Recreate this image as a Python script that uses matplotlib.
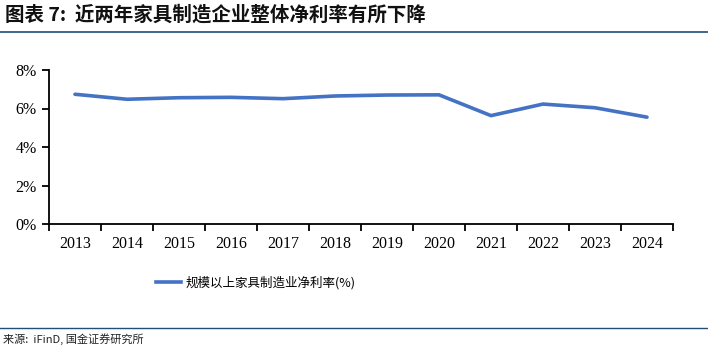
import matplotlib
matplotlib.use("Agg")
import matplotlib.pyplot as plt
from matplotlib.lines import Line2D
from matplotlib.ticker import FuncFormatter, FixedLocator

years = ["2013", "2014", "2015", "2016", "2017", "2018", "2019", "2020", "2021", "2022", "2023", "2024"]
net_margin = [6.74, 6.48, 6.56, 6.58, 6.51, 6.65, 6.70, 6.71, 5.63, 6.23, 6.04, 5.55]
series_name = "规模以上家具制造业净利率(%)"
title = "图表 7:  近两年家具制造企业整体净利率有所下降"
source = "来源:  iFinD, 国金证券研究所"

cjk = ["Noto Sans CJK SC", "DejaVu Sans"]
serif = ["Liberation Serif", "DejaVu Serif"]

fig = plt.figure(figsize=(7.08, 3.64), dpi=100)
ax = fig.add_axes([49/708, 1-224/364, (673-49)/708, (224-70)/364])

x = list(range(len(years)))
ax.plot(x, net_margin, color="#4472C4", lw=2.6, solid_capstyle="round", solid_joinstyle="round")

ax.set_xlim(-0.5, len(years)-0.5)
ax.set_ylim(0, 8)
ax.set_yticks([0, 2, 4, 6, 8])
ax.yaxis.set_major_formatter(FuncFormatter(lambda v, p: f"{v:.0f}%"))
ax.set_xticks(x)
ax.set_xticklabels(years)
ax.xaxis.set_minor_locator(FixedLocator([i - 0.5 for i in range(len(years)+1)]))
ax.tick_params(axis="x", which="major", length=0, pad=9)
ax.tick_params(axis="x", which="minor", length=5, width=1.3, direction="out", color="black")
ax.tick_params(axis="y", length=5, width=1.3, direction="out", pad=4)
for lab in ax.get_xticklabels() + ax.get_yticklabels():
    lab.set_fontfamily(serif)
    lab.set_fontsize(11.5)
for s in ["top", "right"]:
    ax.spines[s].set_visible(False)
for s in ["left", "bottom"]:
    ax.spines[s].set_linewidth(1.3)

# legend
handle = Line2D([0], [0], color="#4472C4", lw=2.6)
leg = fig.legend([handle], [series_name], loc="center", bbox_to_anchor=(256/708, 1-283/364),
                 frameon=False, prop={"family": cjk, "size": 9}, handlelength=2.0, handletextpad=0.4)

# title and rules
fig.text(5/708, 1-15/364, title, fontsize=14, fontweight="bold", fontstyle="italic",
         family=cjk, va="center", ha="left", color="#111111")
fig.add_artist(Line2D([0, 1], [1-32/364, 1-32/364], color="#1F4E79", lw=1.2, transform=fig.transFigure))
fig.add_artist(Line2D([0, 1], [1-328/364, 1-328/364], color="#1F4E79", lw=1.0, transform=fig.transFigure))
fig.text(3/708, 1-339/364, source, fontsize=8, family=cjk, va="center", ha="left", color="#222222")

fig.savefig("out.png", dpi=100)
